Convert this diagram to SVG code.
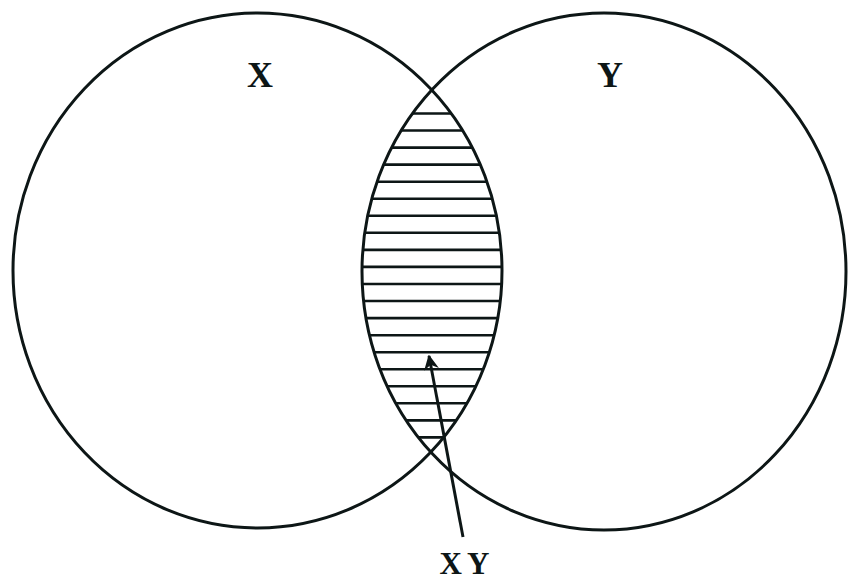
<svg xmlns="http://www.w3.org/2000/svg" width="848" height="580" viewBox="0 0 848 580">
<style>
.c{fill:none;stroke:#0d1616;stroke-width:3}
.h{stroke:#0d1616;stroke-width:2.6}
.t{font-family:"Liberation Serif",serif;font-weight:bold;fill:#0d1616}
</style>
<defs>
<clipPath id="cl"><ellipse cx="257.5" cy="270.5" rx="244.5" ry="257.5"/></clipPath>
<clipPath id="cr"><ellipse cx="604" cy="271.5" rx="242" ry="258.5"/></clipPath>
<marker id="ah" viewBox="0 0 10 10" refX="9" refY="5" markerWidth="5" markerHeight="5" orient="auto" markerUnits="strokeWidth">
<path d="M0,0 L10,5 L0,10 L3,5 Z" fill="#0d1616"/>
</marker>
</defs>
<rect width="848" height="580" fill="#fff"/>
<g id="hatch" clip-path="url(#cl)"><g clip-path="url(#cr)">
<path class="h" d="M340 113.5H520M340 130.5H520M340 147.6H520M340 164.6H520M340 181.7H520M340 198.8H520M340 215.8H520M340 232.8H520M340 249.9H520M340 266.9H520M340 284H520M340 301H520M340 318.1H520M340 335.2H520M340 352.2H520M340 369.2H520M340 386.3H520M340 403.3H520M340 420.4H520M340 437.4H520"/>
</g></g>
<g id="X"><ellipse class="c" cx="257.5" cy="270.5" rx="244.5" ry="257.5"/><text class="t" x="260" y="87" font-size="36" text-anchor="middle">X</text></g>
<g id="Y"><ellipse class="c" cx="604" cy="271.5" rx="242" ry="258.5"/><text class="t" x="610" y="87" font-size="36" text-anchor="middle">Y</text></g>
<g id="connectors"><line x1="463" y1="537" x2="429" y2="356" stroke="#0d1616" stroke-width="3" marker-end="url(#ah)"/></g>
<g id="XYlabel"><text class="t" x="467" y="574" font-size="31" text-anchor="middle" letter-spacing="5">XY</text></g>
</svg>
